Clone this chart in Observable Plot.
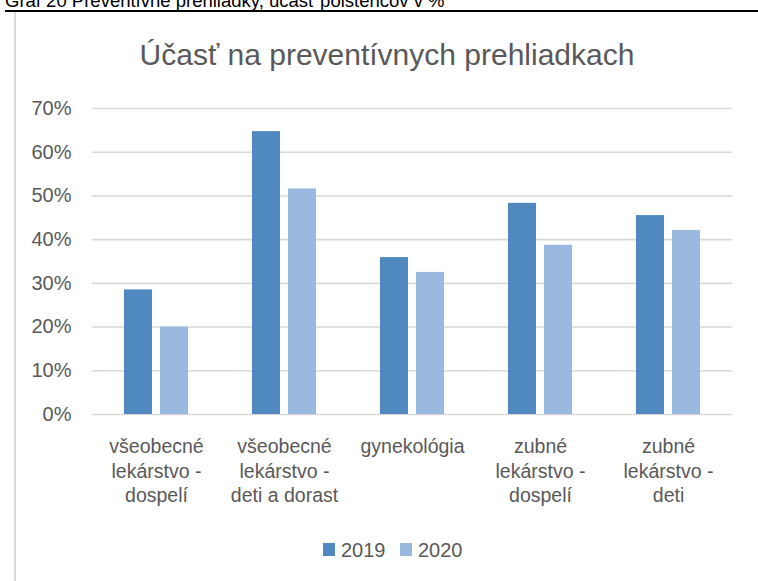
<!DOCTYPE html>
<html>
<head>
<meta charset="utf-8">
<script src="https://cdn.jsdelivr.net/npm/d3@7"></script>
<script src="https://cdn.jsdelivr.net/npm/@observablehq/plot@0.6"></script>
<style>
  html, body { margin: 0; padding: 0; background: #fff; }
  body { width: 758px; height: 581px; position: relative; overflow: hidden; font-family: "Liberation Sans", Arial, sans-serif; }
  #header { position: absolute; left: 5px; top: -8px; font-size: 18.5px; line-height: 18px; color: #000; white-space: nowrap; }
  #topline { position: absolute; left: 5px; right: 0; top: 10px; height: 2px; background: #000; }
  #frame { position: absolute; left: 14px; top: 12px; width: 2px; bottom: 0; background: #D9D9D9; }
  #title { position: absolute; left: 0; width: 774px; top: 40px; text-align: center; font-size: 30px; line-height: 30px; color: #595959; white-space: nowrap; }
  #chart { position: absolute; left: 0; top: 90px; }
  #legend { position: absolute; top: 541px; left: 0; width: 758px; height: 20px; }
  .sw { position: absolute; top: 2px; width: 12px; height: 13px; }
  .lt { position: absolute; top: 0; font-size: 20px; line-height: 19px; color: #595959; }
</style>
</head>
<body>
<div id="header">Graf 20 Preventívne prehliadky, účasť poistencov v %</div>
<div id="topline"></div>
<div id="frame"></div>
<div id="title">Účasť na preventívnych prehliadkach</div>
<div id="chart"></div>
<div id="legend"></div>
<script>
// ---- data ----
const categories = [
  "všeobecné lekárstvo - dospelí",
  "všeobecné lekárstvo - deti a dorast",
  "gynekológia",
  "zubné lekárstvo - dospelí",
  "zubné lekárstvo - deti"
];
const categoryLabels = [
  "všeobecné\nlekárstvo -\ndospelí",
  "všeobecné\nlekárstvo -\ndeti a dorast",
  "gynekológia",
  "zubné\nlekárstvo -\ndospelí",
  "zubné\nlekárstvo -\ndeti"
];
const years = ["2019", "2020"];
const values2019 = [0.285, 0.647, 0.359, 0.483, 0.455];
const values2020 = [0.200, 0.516, 0.325, 0.387, 0.421];
const yTicks = [0, 0.1, 0.2, 0.3, 0.4, 0.5, 0.6, 0.7];
const colors = ["#4F89BF", "#9AB9E0"];

// ---- table ----
const rows = [];
categories.forEach((c, i) => {
  rows.push({category: c, label: categoryLabels[i], year: years[0], value: values2019[i]});
  rows.push({category: c, label: categoryLabels[i], year: years[1], value: values2020[i]});
});

const plot = Plot.plot({
  width: 758,
  height: 424,
  marginLeft: 92,
  marginRight: 26,
  marginTop: 18,
  marginBottom: 100,
  style: {fontFamily: "'Liberation Sans', Arial, sans-serif", fontSize: "20px", color: "#595959", background: "transparent"},
  facet: {data: rows, x: "category"},
  fx: {domain: categories, padding: 0, axis: null, label: null},
  x: {domain: years, paddingInner: 0.22, paddingOuter: 0.86, axis: null},
  y: {domain: [0, 0.7], ticks: yTicks, tickFormat: d3.format(".0%"), tickSize: 0, tickPadding: 21, label: null},
  color: {domain: years, range: colors},
  marks: [
    Plot.ruleY(yTicks, {stroke: "#D9D9D9", strokeWidth: 1.6}),
    Plot.barY(rows, {x: "year", y: "value", fill: "year"}),
    Plot.text(rows, {
      filter: d => d.year === years[0],
      text: "label",
      frameAnchor: "bottom",
      lineAnchor: "top",
      dy: 21,
      lineHeight: 1.26,
      fontSize: 19.5,
      fill: "#595959"
    })
  ]
});
document.getElementById("chart").appendChild(plot);

// ---- legend ----
const legend = document.getElementById("legend");
const legendX = [323, 400];
years.forEach((y, i) => {
  const sw = document.createElement("div");
  sw.className = "sw";
  sw.style.left = legendX[i] + "px";
  sw.style.background = colors[i];
  legend.appendChild(sw);
  const t = document.createElement("div");
  t.className = "lt";
  t.style.left = (legendX[i] + 18) + "px";
  t.textContent = y;
  legend.appendChild(t);
});
</script>
</body>
</html>
